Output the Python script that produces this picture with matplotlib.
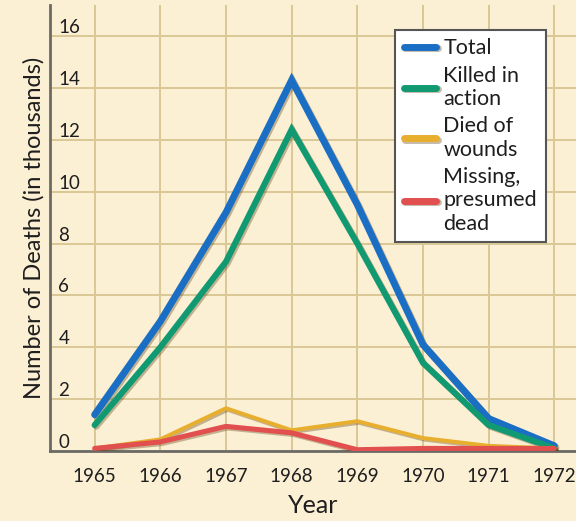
import matplotlib
matplotlib.use("Agg")
import matplotlib.pyplot as plt
import matplotlib.patheffects as pe

years = [1965, 1966, 1967, 1968, 1969, 1970, 1971, 1972]
total = [1.4, 5.0, 9.2, 14.3, 9.5, 4.1, 1.25, 0.2]
killed = [1.0, 4.0, 7.3, 12.4, 8.0, 3.4, 1.0, 0.1]
died_wounds = [0.1, 0.45, 1.65, 0.8, 1.15, 0.5, 0.2, 0.1]
missing = [0.1, 0.35, 0.95, 0.7, 0.05, 0.1, 0.1, 0.1]
labels = ["Total", "Killed in\naction", "Died of\nwounds", "Missing,\npresumed\ndead"]
yticks = [0, 2, 4, 6, 8, 10, 12, 14, 16]

bg = "#fbf0d4"
fig = plt.figure(figsize=(5.76, 5.21), dpi=100, facecolor=bg)
ax = fig.add_axes([50/576, 70/521, 526/576, 446/521])
ax.set_facecolor(bg)

tick_font = "Lato"

series = [
    (total, "#1a6fc4", 5.0),
    (killed, "#119a72", 4.4),
    (died_wounds, "#e8ae2e", 2.8),
    (missing, "#e24f4f", 3.6),
]
handles = []
for vals, col, lw in series:
    h, = ax.plot(years, vals, color=col, lw=lw, solid_capstyle="round",
                 solid_joinstyle="miter", zorder=3,
                 path_effects=[pe.SimpleLineShadow(offset=(1.2, -1.2), alpha=0.35, shadow_color="#5a3a10"), pe.Normal()])
    handles.append(h)

ax.set_xlim(1964.32, 1972.33)
ax.set_ylim(0, 17.2)
ax.set_xticks(years)
ax.set_yticks(yticks)
ax.set_xticklabels([str(y) for y in years], fontfamily=tick_font, fontsize=13.5)
ax.set_yticklabels([str(v) for v in yticks], fontfamily=tick_font, fontsize=13.5)
ax.grid(True, color="#dbc796", lw=1.4, zorder=0)
ax.set_axisbelow(True)
ax.tick_params(axis="x", length=0, pad=12, colors="#1e1e1e")
ax.tick_params(axis="y", length=0, pad=-6, colors="#1e1e1e")
for lab in ax.get_yticklabels():
    lab.set_horizontalalignment("left")
    lab.set_verticalalignment("bottom")

for s in ["top", "right"]:
    ax.spines[s].set_visible(False)
for s in ["left", "bottom"]:
    ax.spines[s].set_color("#6b6a66")
    ax.spines[s].set_linewidth(2.0)

ax.set_xlabel("Year", fontfamily="Lato", fontsize=18, color="#1e1e1e", labelpad=7)
ax.set_ylabel("Number of Deaths (in thousands)", fontfamily="Lato", fontsize=17,
              color="#1e1e1e", labelpad=4)

leg = ax.legend(handles, labels, loc="upper left", bbox_to_anchor=(0.656, 0.945),
                prop={"family": tick_font, "size": 15.5}, frameon=True, fancybox=False,
                handlelength=1.5, handletextpad=0.35, labelspacing=0.35,
                borderpad=0.4, borderaxespad=0)
leg.get_frame().set_edgecolor("#555555")
leg.get_frame().set_linewidth(1.5)
leg.get_frame().set_facecolor("white")
leg.get_frame().set_alpha(1)
for t in leg.get_texts():
    t.set_color("#1e1e1e")
    t.set_linespacing(1.2)
for lh in leg.legend_handles:
    lh.set_linewidth(5)

fig.savefig("out.png", dpi=100, facecolor=bg)
